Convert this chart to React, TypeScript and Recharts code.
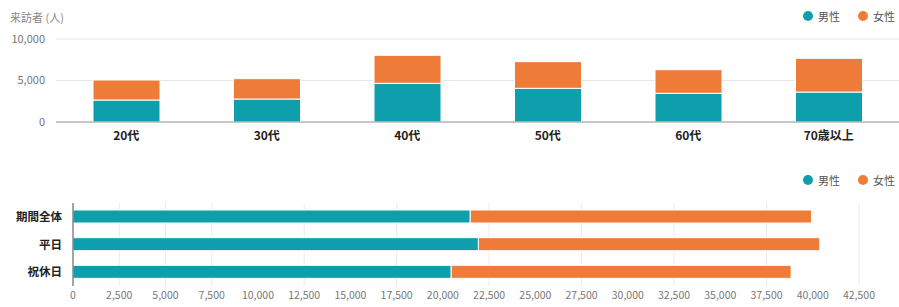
import { Bar, BarChart, CartesianGrid, Legend, XAxis, YAxis } from "recharts";

const ageGroups = ["20代", "30代", "40代", "50代", "60代", "70歳以上"];
const maleByAge = [2650, 2770, 4660, 4060, 3460, 3610];
const femaleByAge = [2410, 2450, 3370, 3210, 2840, 4060];
const ageTicks = [0, 5000, 10000];

const periods = ["期間全体", "平日", "祝休日"];
const maleByPeriod = [21480, 21920, 20450];
const femaleByPeriod = [18450, 18460, 18380];
const periodTicks = [
  0, 2500, 5000, 7500, 10000, 12500, 15000, 17500, 20000, 22500, 25000, 27500, 30000, 32500, 35000,
  37500, 40000, 42500,
];

const genderNames = ["男性", "女性"];

const TEAL = "#0f9fac";
const ORANGE = "#ef7b39";
const FONT = "'Noto Sans CJK JP', 'Noto Sans', sans-serif";

const ageData = ageGroups.map((age, i) => ({ age, male: maleByAge[i], female: femaleByAge[i] }));
const periodData = periods.map((period, i) => ({
  period,
  male: maleByPeriod[i],
  female: femaleByPeriod[i],
}));

const fmt = (v: number) => v.toLocaleString("en-US");

function GenderLegend({ payload }: { payload?: { value: string; color?: string }[] }) {
  // recharts lists stacked series backwards, keep 男性 first
  const items = [...(payload ?? [])].sort(
    (a, b) => genderNames.indexOf(a.value) - genderNames.indexOf(b.value)
  );
  return (
    <div style={{ display: "flex", justifyContent: "flex-end", fontFamily: FONT, fontSize: 11, color: "#555" }}>
      {items.map((item, i) => (
        <div key={item.value} style={{ display: "flex", alignItems: "center", marginLeft: i === 0 ? 0 : 18 }}>
          <span
            style={{ width: 10, height: 10, borderRadius: 5, background: item.color, marginRight: 5, display: "inline-block" }}
          />
          <span>{item.value}</span>
        </div>
      ))}
    </div>
  );
}

export default function App() {
  return (
    <div style={{ position: "absolute", top: 0, left: 0, width: 899, height: 307, background: "#fff", fontFamily: FONT }}>
      <div style={{ position: "absolute", left: 10, top: 9, fontSize: 11, color: "#888" }}>来訪者 (人)</div>
      <BarChart width={899} height={150} data={ageData} margin={{ top: 39, right: 0, left: 0, bottom: 0 }}>
        <CartesianGrid vertical={false} stroke="#e6e6e6" />
        <XAxis
          dataKey="age"
          height={28}
          tickLine={false}
          tickSize={0}
          tickMargin={9}
          axisLine={{ stroke: "#9a9a9a" }}
          tick={{ fill: "#222", fontSize: 12, fontWeight: 700, fontFamily: FONT }}
        />
        <YAxis
          width={56}
          domain={[0, 10000]}
          ticks={ageTicks}
          tickFormatter={fmt}
          axisLine={false}
          tickLine={false}
          tickSize={0}
          tickMargin={11}
          tick={{ fill: "#777", fontSize: 11, fontFamily: FONT }}
        />
        <Legend verticalAlign="middle" wrapperStyle={{ top: 8, left: 0, right: 4, width: "auto" }} content={<GenderLegend />} />
        <Bar dataKey="male" name="男性" stackId="a" fill={TEAL} stroke="#fff" strokeWidth={1} barSize={67} isAnimationActive={false} />
        <Bar dataKey="female" name="女性" stackId="a" fill={ORANGE} stroke="#fff" strokeWidth={1} barSize={67} isAnimationActive={false} />
      </BarChart>
      <BarChart
        width={899}
        height={157}
        data={periodData}
        layout="vertical"
        margin={{ top: 53, right: 40, left: 0, bottom: 0 }}
      >
        <CartesianGrid horizontal={false} stroke="#ebebeb" />
        <XAxis
          type="number"
          domain={[0, 42500]}
          ticks={periodTicks}
          tickFormatter={fmt}
          height={21}
          axisLine={false}
          tickLine={false}
          tickSize={0}
          tickMargin={6}
          tick={{ fill: "#777", fontSize: 10.5, fontFamily: FONT }}
        />
        <YAxis
          type="category"
          dataKey="period"
          width={73}
          axisLine={{ stroke: "#555" }}
          tickLine={false}
          tickSize={0}
          tickMargin={11}
          tick={{ fill: "#222", fontSize: 11.5, fontWeight: 700, fontFamily: FONT }}
        />
        <Legend verticalAlign="middle" wrapperStyle={{ top: 22, left: 0, right: 4, width: "auto" }} content={<GenderLegend />} />
        <Bar dataKey="male" name="男性" stackId="b" fill={TEAL} stroke="#fff" strokeWidth={1} barSize={13} isAnimationActive={false} />
        <Bar dataKey="female" name="女性" stackId="b" fill={ORANGE} stroke="#fff" strokeWidth={1} barSize={13} isAnimationActive={false} />
      </BarChart>
    </div>
  );
}
